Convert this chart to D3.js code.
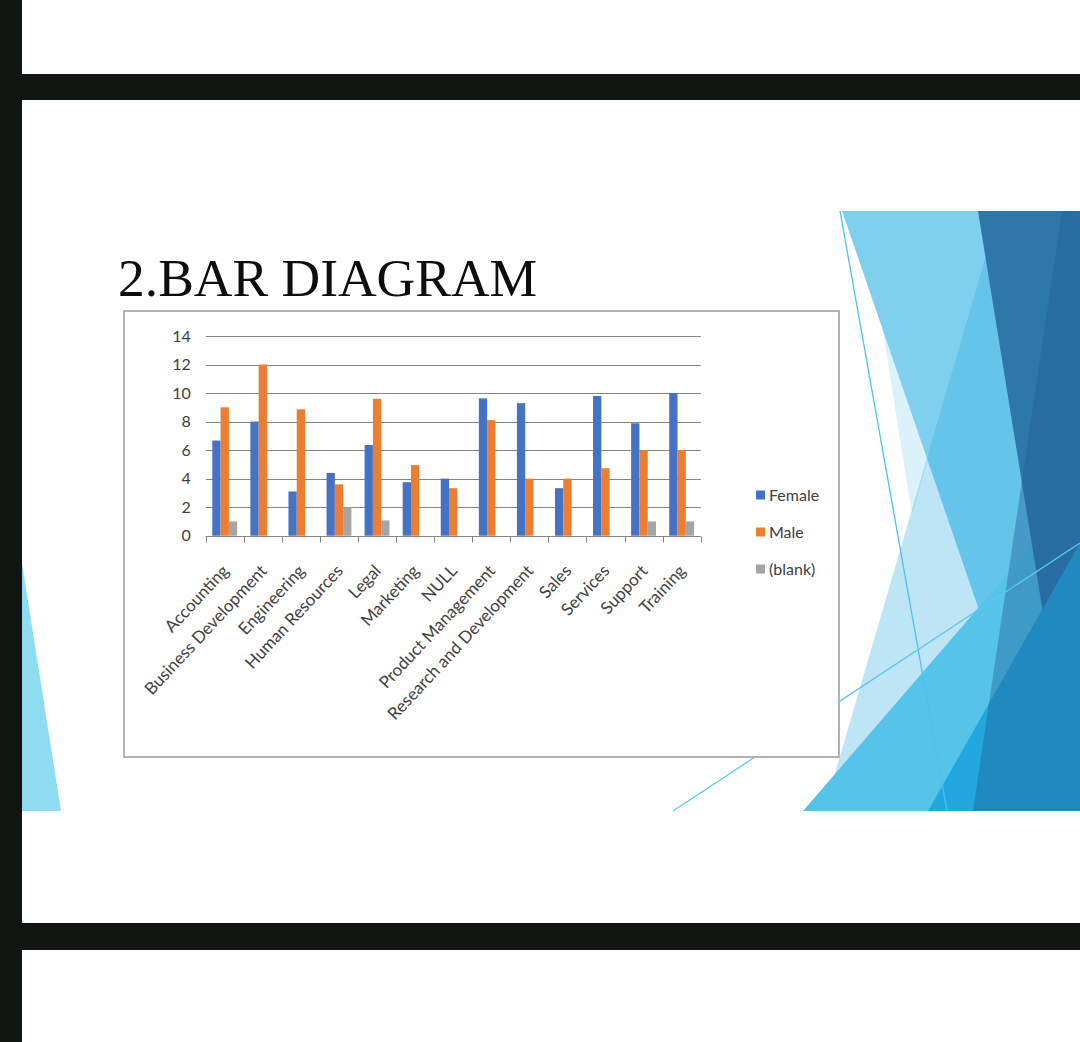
<!DOCTYPE html>
<html>
<head>
<meta charset="utf-8">
<script src="https://cdn.jsdelivr.net/npm/d3@7"></script>
<style>
  html, body { margin: 0; padding: 0; background: #ffffff; }
  svg { display: block; }
</style>
</head>
<body>
<svg id="chart" width="1080" height="1042"></svg>
<script>
// ---- data ----
const categories = ["Accounting", "Business Development", "Engineering", "Human Resources", "Legal",
  "Marketing", "NULL", "Product Management", "Research and Development", "Sales", "Services", "Support", "Training"];
const seriesNames = ["Female", "Male", "(blank)"];
const femaleValues = [6.67, 8, 3.1, 4.4, 6.36, 3.75, 4, 9.63, 9.29, 3.33, 9.8, 7.88, 10];
const maleValues   = [9, 12, 8.86, 3.6, 9.6, 4.95, 3.33, 8.1, 4, 4, 4.73, 6, 6];
const blankValues  = [1, null, null, 2, 1.07, null, null, null, null, null, null, 1, 1];
const yTicks = [0, 2, 4, 6, 8, 10, 12, 14];
const titleText = "2.BAR DIAGRAM";

const seriesColors = ["#4472C4", "#ED7D31", "#A5A5A5"];
const seriesValues = [femaleValues, maleValues, blankValues];

const svg = d3.select("#chart");
const uiFont = "Lato, 'Open Sans', sans-serif";

// ---- screen frame ----
const dark = "#111512";
svg.append("rect").attr("x", 0).attr("y", 0).attr("width", 1080).attr("height", 1042).attr("fill", "#ffffff");

// slide decorations (background facets)
const deco = svg.append("g");
const poly = (pts, fill, op) => deco.append("polygon")
  .attr("points", pts.map(p => p.join(",")).join(" "))
  .attr("fill", fill).attr("fill-opacity", op);

poly([[22,563],[61,811],[22,811]], "#8fdbf2", 1);
poly([[864,211],[912,515],[999,211]], "#dcf2fb", 1);
poly([[842,211],[1080,211],[1080,811],[1048,811]], "#7fd0ee", 1);
poly([[999,211],[1080,211],[1080,811],[824,811]], "#28aae1", 0.3);
poly([[803,811],[1080,490],[1080,811]], "#56c4e9", 1);
poly([[978,211],[1080,211],[1080,811],[1075,811]], "#2e77a9", 1);
poly([[928,811],[1080,543],[1080,811]], "#22a8de", 1);
poly([[1062,211],[1080,211],[1080,811],[973,811]], "#1e6096", 0.42);
deco.append("line").attr("x1", 840).attr("y1", 211).attr("x2", 947).attr("y2", 811)
  .attr("stroke", "#4cc3ee").attr("stroke-width", 1.3);
deco.append("line").attr("x1", 673).attr("y1", 811).attr("x2", 1080).attr("y2", 543)
  .attr("stroke", "#5ac8ef").attr("stroke-width", 1.3);

// black bars of the screen
svg.append("rect").attr("x", 0).attr("y", 0).attr("width", 22).attr("height", 1042).attr("fill", dark);
svg.append("rect").attr("x", 0).attr("y", 74).attr("width", 1080).attr("height", 26).attr("fill", dark);
svg.append("rect").attr("x", 0).attr("y", 923).attr("width", 1080).attr("height", 27).attr("fill", dark);

// ---- title ----
svg.append("text")
  .attr("x", 118).attr("y", 296)
  .attr("font-family", "'Liberation Serif', 'Times New Roman', serif")
  .attr("font-size", 53.5)
  .attr("fill", "#0d0d0d")
  .text(titleText);

// ---- chart box ----
svg.append("rect")
  .attr("x", 124).attr("y", 311).attr("width", 715).attr("height", 446)
  .attr("fill", "#ffffff").attr("stroke", "#b3b3b3").attr("stroke-width", 2);

// ---- scales ----
const plotL = 205.7, plotR = 700.7, plotT = 336, plotB = 535.7;
const x0 = d3.scaleBand().domain(categories).range([plotL, plotR]).paddingInner(0).paddingOuter(0);
const x1 = d3.scaleBand().domain(seriesNames).range([6.6, x0.bandwidth() - 6.6]).padding(0);
const y = d3.scaleLinear().domain([0, 14]).range([plotB, plotT]);

// gridlines
svg.append("g").selectAll("line").data(yTicks.filter(t => t > 0)).join("line")
  .attr("x1", plotL).attr("x2", plotR)
  .attr("y1", d => Math.round(y(d)) + 0.5).attr("y2", d => Math.round(y(d)) + 0.5)
  .attr("stroke", "#858585").attr("stroke-width", 1);

// y-axis labels
const yAxis = d3.axisLeft(y).tickValues(yTicks).tickSize(0).tickPadding(0);
const yg = svg.append("g").attr("transform", `translate(${plotL - 15},0)`).call(yAxis);
yg.select(".domain").remove();
yg.selectAll("text").attr("font-family", uiFont).attr("font-size", 16).attr("fill", "#404040");

// bars
const barsG = svg.append("g");
seriesNames.forEach((s, si) => {
  barsG.append("g").selectAll("rect")
    .data(categories.map((c, i) => ({ c, v: seriesValues[si][i] })).filter(d => d.v != null))
    .join("rect")
    .attr("x", d => x0(d.c) + x1(s))
    .attr("width", x1.bandwidth())
    .attr("y", d => y(d.v))
    .attr("height", d => y(0) - y(d.v))
    .attr("fill", seriesColors[si]);
});

// x axis
const xg = svg.append("g").attr("transform", `translate(0,${Math.round(plotB) + 0.5})`);
xg.append("line").attr("x1", plotL).attr("x2", plotR).attr("stroke", "#858585");
const tickXs = categories.map(c => x0(c)).concat([plotR]);
xg.selectAll("line.tick").data(tickXs).join("line").attr("class", "tick")
  .attr("x1", d => Math.round(d) + 0.5).attr("x2", d => Math.round(d) + 0.5)
  .attr("y1", 0).attr("y2", 6).attr("stroke", "#858585");

svg.append("g").selectAll("text").data(categories).join("text")
  .attr("transform", d => `translate(${x0(d) + x0.bandwidth() / 2 + 5},${plotB + 36}) rotate(-47)`)
  .attr("text-anchor", "end")
  .attr("font-family", uiFont).attr("font-size", 17).attr("fill", "#404040")
  .text(d => d);

// legend
const lg = svg.append("g").selectAll("g").data(seriesNames).join("g")
  .attr("transform", (d, i) => `translate(756,${495 + i * 37})`);
lg.append("rect").attr("x", 0).attr("y", -4.5).attr("width", 9).attr("height", 9)
  .attr("fill", (d, i) => seriesColors[i]);
lg.append("text").attr("x", 13).attr("y", 0).attr("dy", "0.35em")
  .attr("font-family", uiFont).attr("font-size", 16).attr("fill", "#404040")
  .text(d => d);
</script>
</body>
</html>
